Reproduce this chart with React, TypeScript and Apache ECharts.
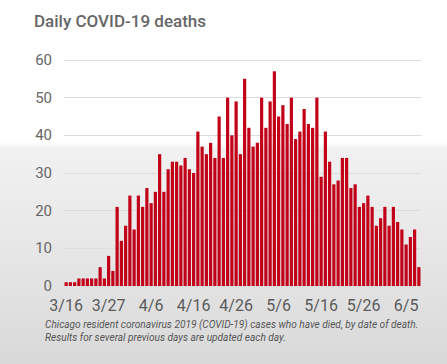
import React, { useEffect, useRef } from "react";
import * as echarts from "echarts";

const titleText = "Daily COVID-19 deaths";
const noteLines = [
  "Chicago resident coronavirus 2019 (COVID-19) cases who have died, by date of death.",
  "Results for several previous days are updated each day.",
];

const dates = [
  "3/16", "3/18", "3/19", "3/20", "3/21", "3/22", "3/23", "3/24", "3/25", "3/26",
  "3/27", "3/28", "3/29", "3/30", "3/31",
  "4/1", "4/2", "4/3", "4/4", "4/5", "4/6", "4/7", "4/8", "4/9", "4/10",
  "4/11", "4/12", "4/13", "4/14", "4/15", "4/16", "4/17", "4/18", "4/19", "4/20",
  "4/21", "4/22", "4/23", "4/24", "4/25", "4/26", "4/27", "4/28", "4/29", "4/30",
  "5/1", "5/2", "5/3", "5/4", "5/5", "5/6", "5/7", "5/8", "5/9", "5/10",
  "5/11", "5/12", "5/13", "5/14", "5/15", "5/16", "5/17", "5/18", "5/19", "5/20",
  "5/21", "5/22", "5/23", "5/24", "5/25", "5/26", "5/27", "5/28", "5/29", "5/30",
  "5/31", "6/1", "6/2", "6/3", "6/4", "6/5", "6/6", "6/7", "6/8",
];

const deaths = [
  1, 1, 1, 2, 2, 2, 2, 2, 5, 2, 8, 4, 21, 12, 16, 24, 15, 24, 21, 26, 22, 25,
  35, 25, 31, 33, 33, 32, 34, 31, 30, 41, 37, 35, 38, 34, 45, 34, 50, 40, 49, 35,
  55, 42, 37, 38, 50, 42, 49, 57, 45, 48, 43, 50, 39, 41, 47, 43, 42, 50, 29, 41, 33,
  27, 28, 34, 34, 26, 27, 21, 22, 24, 21, 16, 18, 21, 16, 21, 17, 15, 11, 13, 15, 5,
];

const labeledDates = ["3/16", "3/27", "4/6", "4/16", "4/26", "5/6", "5/16", "5/26", "6/5"];

export default function App() {
  const ref = useRef<HTMLDivElement>(null);

  useEffect(() => {
    if (!ref.current) return;
    const chart = echarts.init(ref.current, undefined, { renderer: "svg" });
    chart.setOption({
      animation: false,
      backgroundColor: "transparent",
      title: {
        text: titleText,
        left: 29,
        top: 7,
        textStyle: {
          fontFamily: "Roboto",
          fontSize: 17,
          fontWeight: 500,
          color: "#666666",
        },
      },
      grid: { left: 64, right: 26, top: 60, bottom: 78, containLabel: false },
      xAxis: {
        type: "category",
        data: dates,
        boundaryGap: true,
        axisLine: { show: false },
        axisTick: { show: false },
        axisLabel: {
          interval: (_i: number, v: string) => labeledDates.includes(v),
          color: "#5a5a5a",
          fontFamily: "Roboto",
          fontSize: 16,
          margin: 11,
        },
      },
      yAxis: {
        type: "value",
        min: 0,
        max: 60,
        interval: 10,
        axisLine: { show: false },
        axisTick: { show: false },
        axisLabel: {
          color: "#666666",
          fontFamily: "Roboto",
          fontSize: 15,
          margin: 12,
        },
        splitLine: { lineStyle: { color: "#dddddd", width: 1 } },
      },
      series: [
        {
          type: "bar",
          data: deaths,
          barCategoryGap: "25%",
          itemStyle: { color: "#c20017" },
        },
      ],
      graphic: [
        {
          type: "text",
          x: 45,
          y: 318,
          scaleX: 0.92,
          style: {
            text: noteLines.join("\n"),
            font: "italic 11px Roboto",
            fill: "#555555",
            lineHeight: 13,
          },
        },
      ],
    });
    return () => chart.dispose();
  }, []);

  return (
    <div
      style={{
        position: "fixed",
        left: 0,
        top: 0,
        width: 447,
        height: 364,
        background:
          "linear-gradient(to bottom, #ffffff 0%, #ffffff 39%, #f1f1f1 41%, #e6e6e6 70%, #d9d9d9 100%)",
      }}
    >
      <div ref={ref} style={{ width: 447, height: 364 }} />
    </div>
  );
}
